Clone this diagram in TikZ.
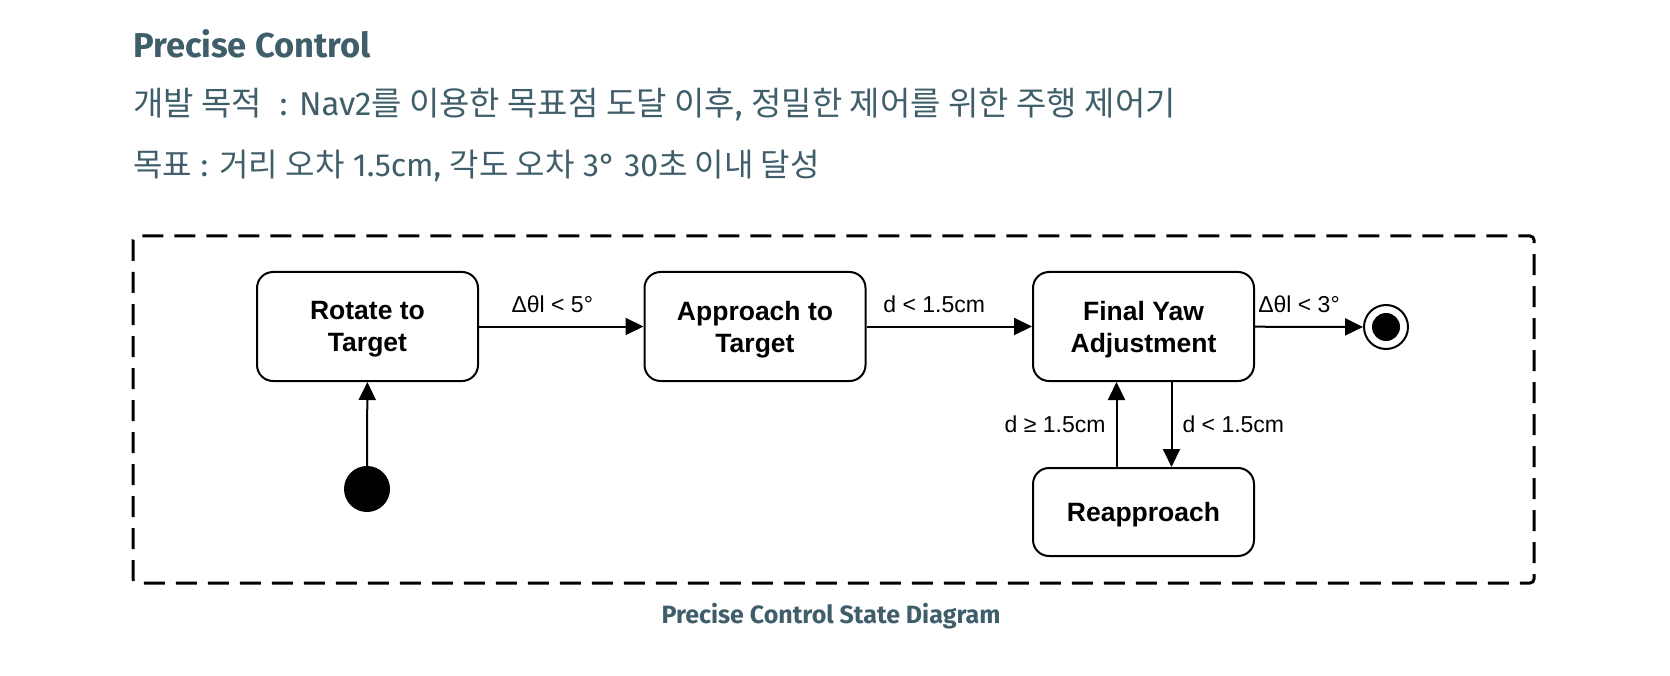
\documentclass[tikz,border=0pt]{standalone}
\usepackage{fontspec}
\setmainfont{Fira Sans}
\newfontfamily\kr{Noto Sans CJK KR}
\newfontfamily\dia{Liberation Sans}
\usetikzlibrary{arrows.meta}
\definecolor{slate}{HTML}{3F5E6A}
\begin{document}
\begin{tikzpicture}[x=1pt,y=-1pt,
  statebox/.style={draw, line width=2pt, rounded corners=16pt, minimum width=221pt, minimum height=109pt,
    font=\dia\bfseries\fontsize{26.5}{32}\selectfont, align=center, inner sep=0pt, text depth=0pt},
  arr/.style={line width=2pt, -{Triangle[length=18pt,width=17pt]}},
  lbl/.style={font=\dia\fontsize{23}{27}\selectfont, inner sep=0pt},
  head/.style={text=slate, inner sep=0pt, anchor=base west}]
\useasboundingbox (0,0) rectangle (1670,676);
\node[head, font=\bfseries\fontsize{34.5}{40}\selectfont] (title) at (133,58) {Precise Control};
\node[head, font=\fontsize{33}{38}\selectfont] (l2) at (133,116) {{\kr 개발 목적}\ \ : Nav2{\kr 를 이용한 목표점 도달 이후}, {\kr 정밀한 제어를 위한 주행 제어기}};
\node[head, font=\fontsize{32}{38}\selectfont] (l3) at (133,177) {{\kr 목표} : {\kr 거리 오차} 1.5cm, {\kr 각도 오차} 3° 30{\kr 초 이내 달성}};
\draw[line width=3pt, rounded corners=4pt, dash pattern=on 21pt off 11pt] (133,236) rectangle (1534,583);
\node[statebox] (rot) at (367.5,326.5) {Rotate to\\Target};
\node[statebox] (app) at (755,326.5) {Approach to\\Target};
\node[statebox] (fin) at (1143.5,326.5) {Final Yaw\\Adjustment};
\node[statebox, minimum height=88pt] (rea) at (1143.5,512) {Reapproach};
\node[circle, fill=black, minimum size=46pt, inner sep=0pt] (init) at (367,489) {};
\node[circle, draw, line width=2pt, minimum size=44pt, inner sep=0pt] (end) at (1386,327) {};
\node[circle, fill=black, minimum size=28pt, inner sep=0pt] (endin) at (end.center) {};
\draw[arr] (init) -- (rot);
\draw[arr] (rot) -- node[lbl, above=13pt, xshift=-9pt] {Δθl < 5°} (app);
\draw[arr] (app) -- node[lbl, above=13pt, xshift=-15pt] {d < 1.5cm} (fin);
\draw[arr] (fin) -- node[lbl, above=13pt, xshift=-10pt] {Δθl < 3°} (end);
\draw[arr] ([xshift=-27pt]rea.north) -- node[lbl, left=10pt] {d ≥ 1.5cm} ([xshift=-27pt]fin.south);
\draw[arr] ([xshift=28pt]fin.south) -- node[lbl, right=10pt] {d < 1.5cm} ([xshift=28pt]rea.north);
\node[text=slate, font=\bfseries\fontsize{25}{30}\selectfont, inner sep=0pt, anchor=base] (cap) at (831,623) {Precise Control State Diagram};
\end{tikzpicture}
\end{document}
